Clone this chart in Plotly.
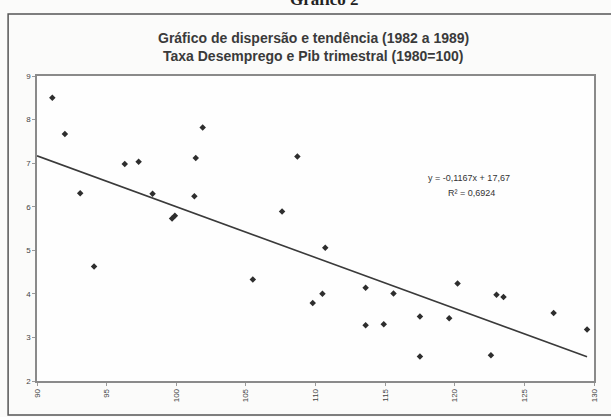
import plotly.graph_objects as go

# PIB trimestral (1980=100) and taxa de desemprego (%)
pib = [91.1, 92.0, 93.1, 94.1, 96.3, 97.3, 98.3, 99.7, 99.9, 101.3, 101.4, 101.9,
       105.5, 107.6, 108.7, 109.8, 110.5, 110.7, 113.6, 113.6, 114.9, 115.6,
       117.5, 117.5, 119.6, 120.2, 122.6, 123.0, 123.5, 127.1, 129.5]
desemprego = [8.50, 7.67, 6.31, 4.63, 6.98, 7.03, 6.30, 5.73, 5.79, 6.24, 7.12, 7.82,
              4.33, 5.89, 7.15, 3.79, 4.00, 5.06, 4.14, 3.28, 3.30, 4.01,
              3.48, 2.56, 3.44, 4.24, 2.59, 3.98, 3.93, 3.56, 3.18]

# trend line (from the chart's equation)
slope = -0.1167
intercept = 17.67
trend_x = [90, 129.5]
trend_y = [slope * x + intercept for x in trend_x]

x_ticks = [90, 95, 100, 105, 110, 115, 120, 125, 130]
y_ticks = [2, 3, 4, 5, 6, 7, 8, 9]

title1 = "Gráfico de dispersão e tendência (1982 a 1989)"
title2 = "Taxa Desemprego e Pib trimestral (1980=100)"
eq1 = "y = -0,1167x + 17,67"
eq2 = "R² = 0,6924"
heading = "Gráfico 2"

W, H = 611, 417
L, R, T, B = 37, 596, 76, 381
pw, ph = R - L, B - T

def px(xp):
    return (xp - L) / pw

def py(yp):
    return (B - yp) / ph

fig = go.Figure()
fig.add_trace(go.Scatter(x=trend_x, y=trend_y, mode="lines",
                         line=dict(color="#3a3a3a", width=1.6),
                         hoverinfo="skip", showlegend=False))
fig.add_trace(go.Scatter(x=pib, y=desemprego, mode="markers",
                         marker=dict(symbol="diamond", size=5, color="#2e2e2e"),
                         showlegend=False))

font = "Liberation Sans, Arial, sans-serif"
fig.update_layout(
    width=W, height=H,
    margin=dict(l=L, r=W - R, t=T, b=H - B),
    paper_bgcolor="#fbfbfa",
    plot_bgcolor="#fefefe",
    font=dict(family=font, size=8, color="#333333"),
    xaxis=dict(range=[90, 130], tickvals=x_ticks, ticktext=[str(v) for v in x_ticks],
               tickangle=-90, showgrid=False, zeroline=False,
               showline=True, linecolor="#8a8a8a", linewidth=1.5, mirror=True,
               ticks="outside", ticklen=3, tickcolor="#9a9a9a",
               tickfont=dict(size=8, color="#444444")),
    yaxis=dict(range=[2, 9], tickvals=y_ticks, showgrid=False, zeroline=False,
               showline=True, linecolor="#8a8a8a", linewidth=1.5, mirror=True,
               ticks="outside", ticklen=3, tickcolor="#9a9a9a",
               tickfont=dict(size=8, color="#444444")),
    shapes=[dict(type="rect", xref="paper", yref="paper",
                 x0=px(8), x1=px(616), y0=py(415), y1=py(14),
                 line=dict(color="#555555", width=1.5), fillcolor="rgba(0,0,0,0)",
                 layer="below")],
    annotations=[
        dict(text="<b>" + title1 + "</b>", xref="paper", yref="paper",
             x=px(314), y=py(38), showarrow=False, xanchor="center", yanchor="middle",
             font=dict(family=font, size=14, color="#3a3a3a")),
        dict(text="<b>" + title2 + "</b>", xref="paper", yref="paper",
             x=px(314), y=py(56), showarrow=False, xanchor="center", yanchor="middle",
             font=dict(family=font, size=14, color="#3a3a3a")),
        dict(text=eq1, xref="paper", yref="paper", x=px(471), y=py(178),
             showarrow=False, xanchor="center", yanchor="middle",
             font=dict(family=font, size=9, color="#333333")),
        dict(text=eq2, xref="paper", yref="paper", x=px(473), y=py(193),
             showarrow=False, xanchor="center", yanchor="middle",
             font=dict(family=font, size=9, color="#333333")),
        dict(text="<b>" + heading + "</b>", xref="paper", yref="paper", x=px(325), y=py(11),
             showarrow=False, xanchor="center", yanchor="bottom",
             font=dict(family="Liberation Serif, Times New Roman, serif", size=17,
                       color="#222222")),
    ],
)

fig.write_html("out.html", config={"displayModeBar": False},
               post_script="document.body.style.margin='0';")
